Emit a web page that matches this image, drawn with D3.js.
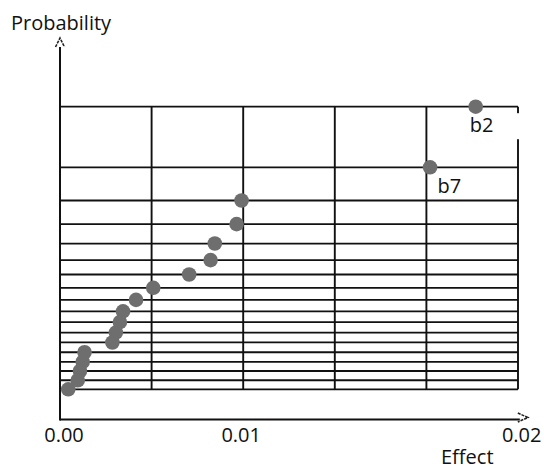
<!DOCTYPE html>
<html><head><meta charset="utf-8">
<script src="https://cdn.jsdelivr.net/npm/d3@7"></script>
<style>
html,body{margin:0;padding:0;background:#fff}
svg{display:block}
text{font-family:"Open Sans",sans-serif;font-size:20px;fill:#111}
</style>
</head><body>
<svg id="c" width="544" height="469"></svg>
<script>
// ---- data ----
const effects = [0.02269, 0.02020, 0.00991, 0.00964, 0.00845, 0.00822, 0.00705, 0.00509, 0.00415,
                 0.00344, 0.00327, 0.00305, 0.00286, 0.00134, 0.00124, 0.00109, 0.00097, 0.00045];
const probabilities = [97.2, 91.7, 86.1, 80.6, 75.0, 69.4, 63.9, 58.3, 52.8,
                       47.2, 41.7, 36.1, 30.6, 25.0, 19.4, 13.9, 8.3, 2.8];
const pointLabels = ["b2", "b7"];
const xGridValues = [0, 0.005, 0.01, 0.015, 0.02, 0.025];
const xTickValues = [0, 0.01, 0.0252];
const xTickLabels = ["0.00", "0.01", "0.02"];
const xTitle = "Effect";
const yTitle = "Probability";

// ---- helpers ----
function invNorm(p) {
  const a = [-3.969683028665376e+01, 2.209460984245205e+02, -2.759285104469687e+02, 1.383577518672690e+02, -3.066479806614716e+01, 2.506628277459239e+00];
  const b = [-5.447609879822406e+01, 1.615858368580409e+02, -1.556989798598866e+02, 6.680131188771972e+01, -1.328068155288572e+01];
  const c = [-7.784894002430293e-03, -3.223964580411365e-01, -2.400758277161838e+00, -2.549732539343734e+00, 4.374664141464968e+00, 2.938163982698783e+00];
  const d = [7.784695709041462e-03, 3.224671290700398e-01, 2.445134137142996e+00, 3.754408661907416e+00];
  const pl = 0.02425, ph = 1 - pl;
  let q, r;
  if (p < pl) { q = Math.sqrt(-2 * Math.log(p));
    return (((((c[0]*q+c[1])*q+c[2])*q+c[3])*q+c[4])*q+c[5]) / ((((d[0]*q+d[1])*q+d[2])*q+d[3])*q+1); }
  if (p <= ph) { q = p - 0.5; r = q*q;
    return (((((a[0]*r+a[1])*r+a[2])*r+a[3])*r+a[4])*r+a[5])*q / (((((b[0]*r+b[1])*r+b[2])*r+b[3])*r+b[4])*r+1); }
  q = Math.sqrt(-2 * Math.log(1 - p));
  return -(((((c[0]*q+c[1])*q+c[2])*q+c[3])*q+c[4])*q+c[5]) / ((((d[0]*q+d[1])*q+d[2])*q+d[3])*q+1);
}
const halfNormalQ = p => invNorm(0.5 + p / 200);

// ---- layout ----
const L = 60, R = 518, gridTop = 106.7, gridBottom = 389.3, axisY = 419.5, axisTop = 47;

const x = d3.scaleLinear().domain([0, 0.025]).range([L, R]);
const yq = d3.scaleLinear()
  .domain([halfNormalQ(d3.min(probabilities)), halfNormalQ(d3.max(probabilities))])
  .range([gridBottom, gridTop]);
const y = p => yq(halfNormalQ(p));

const svg = d3.select("#c");
const ink = "#111";

// horizontal grid lines
svg.append("g").selectAll("line").data(probabilities).join("line")
  .attr("x1", x(0)).attr("x2", x(0.025))
  .attr("y1", d => y(d)).attr("y2", d => y(d))
  .attr("stroke", ink).attr("stroke-width", 1.8);

// vertical grid lines
svg.append("g").selectAll("line").data(xGridValues).join("line")
  .attr("x1", d => x(d)).attr("x2", d => x(d))
  .attr("y1", y(d3.max(probabilities))).attr("y2", y(d3.min(probabilities)))
  .attr("stroke", ink).attr("stroke-width", 1.9);

// gap in right border next to top label
svg.append("rect")
  .attr("x", x(0.025) - 4).attr("width", 8)
  .attr("y", y(d3.max(probabilities)) + 6.5).attr("height", 26)
  .attr("fill", "#fff");

// axes
svg.append("line").attr("x1", L).attr("x2", L).attr("y1", axisTop).attr("y2", axisY + 1)
  .attr("stroke", ink).attr("stroke-width", 2);
svg.append("line").attr("x1", L).attr("x2", x(0.0251)).attr("y1", axisY).attr("y2", axisY)
  .attr("stroke", ink).attr("stroke-width", 1.8);
// arrowheads
svg.append("path").attr("d", `M${L-4.5},${axisTop} L${L},${axisTop-9} L${L+4.5},${axisTop}`)
  .attr("fill", "none").attr("stroke", "#222").attr("stroke-width", 1.6).attr("stroke-dasharray", "3,1");
svg.append("path").attr("d", `M${x(0.0251)-2},${axisY-6.5} L${x(0.0251)+8},${axisY-2} L${x(0.0251)-2},${axisY+2.5}`)
  .attr("fill", "none").attr("stroke", "#222").attr("stroke-width", 1.6).attr("stroke-dasharray", "3,1");

// tick labels
const tickDx = [4, -2, 0];
svg.append("g").selectAll("text").data(xTickValues).join("text")
  .attr("x", (d, i) => x(d) + tickDx[i]).attr("y", 441.5)
  .attr("text-anchor", "middle")
  .text((d, i) => xTickLabels[i]);

// titles
svg.append("text").attr("x", 11).attr("y", 29.5).attr("font-size", 21).text(yTitle);
svg.append("text").attr("x", 441).attr("y", 464).text(xTitle);

// points
const pts = effects.map((e, i) => ({e, p: probabilities[i], label: pointLabels[i] || ""}));
svg.append("g").selectAll("circle").data(pts).join("circle")
  .attr("cx", d => x(d.e)).attr("cy", d => y(d.p))
  .attr("r", 7.3).attr("fill", "#6e6e6e");

// point labels
const labelOffsets = [[-6, 25], [7.5, 25.5]];
svg.append("g").selectAll("text").data(pts.filter(d => d.label)).join("text")
  .attr("x", (d, i) => x(d.e) + labelOffsets[i][0])
  .attr("y", (d, i) => y(d.p) + labelOffsets[i][1])
  .text(d => d.label);
</script>
</body></html>
